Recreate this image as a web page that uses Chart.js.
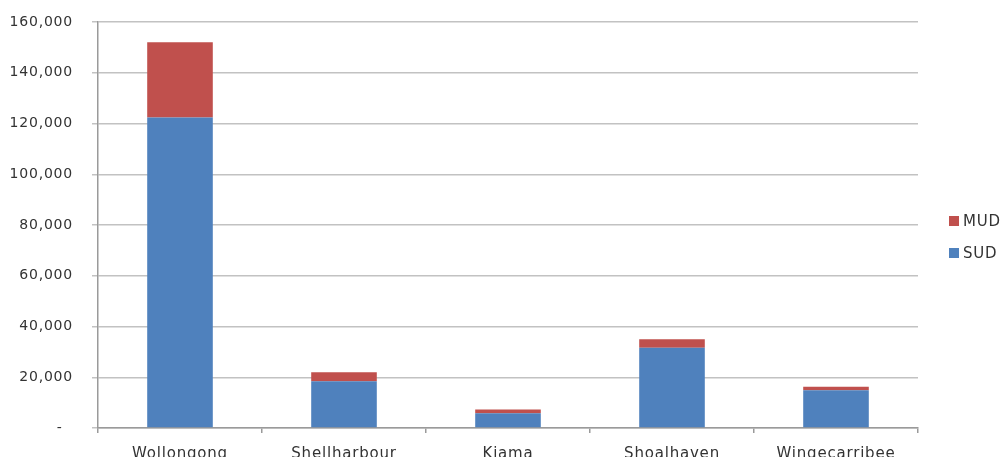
<!DOCTYPE html>
<html>
<head>
<meta charset="utf-8">
<script src="https://cdn.jsdelivr.net/npm/chart.js@4/dist/chart.umd.min.js"></script>
<style>
  html, body { margin: 0; padding: 0; background: #ffffff; }
  #wrap { width: 1008px; height: 457px; }
</style>
</head>
<body>
<div id="wrap"><canvas id="c" width="1008" height="457"></canvas></div>
<script>
// Dwellings by LGA, split into separate (SUD) and multi-unit (MUD) dwellings
const categories = ['Wollongong', 'Shellharbour', 'Kiama', 'Shoalhaven', 'Wingecarribee'];
const sudValues = [122400, 18400, 5800, 31600, 14900];
const mudValues = [29600, 3600, 1500, 3400, 1400];
const seriesNames = ['SUD', 'MUD'];
const yTicks = [0, 20000, 40000, 60000, 80000, 100000, 120000, 140000, 160000];

const FONT = 'DejaVu Sans';
const TEXT = '#333333';

// Slightly widened text spacing for axis and legend labels
const spacingPlugin = {
  id: 'spacing',
  beforeUpdate(chart) { chart.ctx.letterSpacing = '0.8px'; },
  beforeLayout(chart) { chart.ctx.letterSpacing = '0.8px'; },
  beforeDraw(chart) { chart.ctx.letterSpacing = '0.8px'; }
};

// Legend on the right, top entry is the last series
const sideLegend = {
  id: 'sideLegend',
  afterDraw(chart) {
    const ctx = chart.ctx;
    const ds = chart.data.datasets.slice().reverse();
    const rows = [221, 253];
    ctx.save();
    ctx.letterSpacing = '0.8px';
    ctx.font = '15px "' + FONT + '"';
    ctx.textBaseline = 'middle';
    ctx.textAlign = 'left';
    ds.forEach((d, i) => {
      const cy = rows[i];
      ctx.fillStyle = d.backgroundColor;
      ctx.fillRect(949, cy - 5, 10, 10);
      ctx.fillStyle = TEXT;
      ctx.fillText(d.label, 963, cy + 1);
    });
    ctx.restore();
  }
};

new Chart(document.getElementById('c'), {
  type: 'bar',
  data: {
    labels: categories,
    datasets: [
      { label: seriesNames[0], data: sudValues, backgroundColor: '#4f81bd',
        categoryPercentage: 1, barPercentage: 0.4 },
      { label: seriesNames[1], data: mudValues, backgroundColor: '#c0504d',
        categoryPercentage: 1, barPercentage: 0.4 }
    ]
  },
  options: {
    responsive: false,
    animation: false,
    layout: { padding: { left: 0, top: 22, right: 90, bottom: 0 } },
    plugins: { legend: { display: false }, tooltip: { enabled: false } },
    scales: {
      x: {
        stacked: true,
        afterFit(scale) { scale.height = 29; },
        grid: { offset: true, drawOnChartArea: false, drawTicks: true, tickLength: 5,
                color: '#9a9a9a', lineWidth: 1.5 },
        border: { display: true, color: '#9a9a9a', width: 1.5 },
        ticks: { color: TEXT, font: { family: FONT, size: 15 }, padding: 12, maxRotation: 0 }
      },
      y: {
        stacked: true,
        min: 0,
        max: 160000,
        afterFit(scale) { scale.width = 98; scale.paddingTop = 0; scale.paddingBottom = 0; },
        afterBuildTicks(scale) { scale.ticks = yTicks.map(v => ({ value: v })); },
        grid: { color: '#c2c2c2', lineWidth: 1.5, tickLength: 6, drawTicks: true },
        border: { display: true, color: '#9a9a9a', width: 1.5 },
        ticks: {
          color: TEXT,
          font: { family: FONT, size: 14 },
          padding: 19,
          callback: v => v === 0 ? '-  ' : v.toLocaleString('en-US')
        }
      }
    }
  },
  plugins: [spacingPlugin, sideLegend]
});
</script>
</body>
</html>
